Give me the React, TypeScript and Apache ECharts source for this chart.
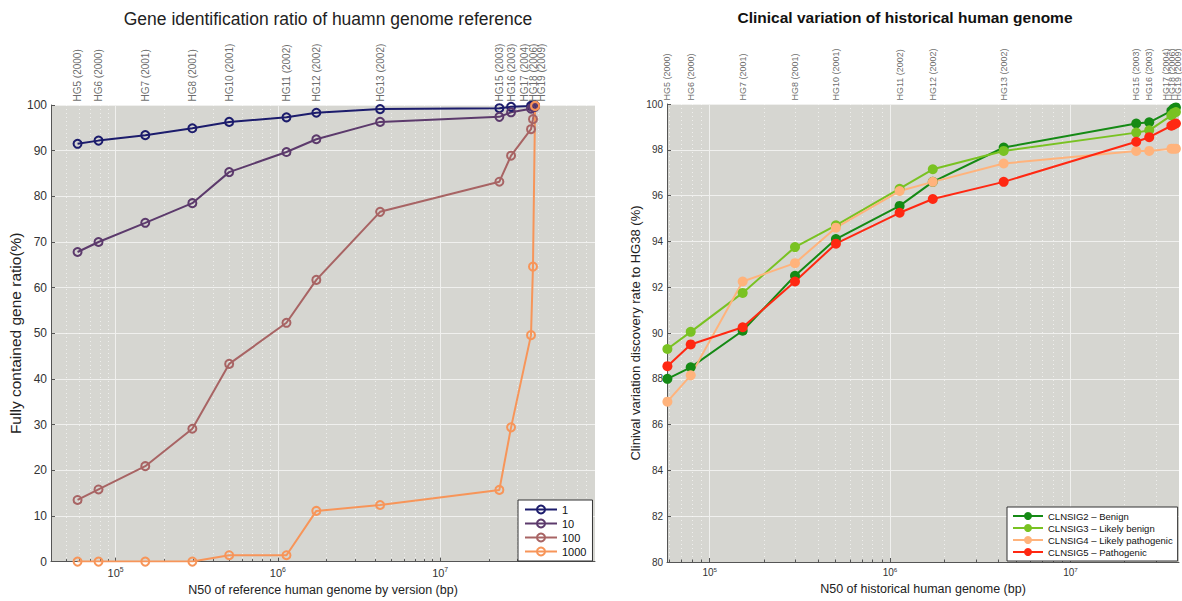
import React, { useEffect, useRef } from 'react';
import * as echarts from 'echarts';

// ---------- data ----------
const versions = [
  'HG5 (2000)', 'HG6 (2000)', 'HG7 (2001)', 'HG8 (2001)', 'HG10 (2001)', 'HG11 (2002)', 'HG12 (2002)',
  'HG13 (2002)', 'HG15 (2003)', 'HG16 (2003)', 'HG17 (2004)', 'HG18 (2006)', 'HG19 (2009)',
];
const n50 = [
  58300, 78500, 152400, 297200, 501200, 1130000, 1726000, 4266000, 23170000, 27350000, 36300000, 37330000, 38460000,
];

const geneNames = ['1', '10', '100', '1000'];
const gene1 = [91.5, 92.2, 93.4, 94.9, 96.3, 97.3, 98.3, 99.1, 99.3, 99.6, 99.8, 99.9, 99.9];
const gene10 = [67.8, 70.0, 74.2, 78.5, 85.3, 89.7, 92.5, 96.3, 97.4, 98.4, 99.2, 99.5, 99.6];
const gene100 = [13.5, 15.8, 20.9, 29.1, 43.3, 52.3, 61.7, 76.6, 83.2, 88.9, 94.7, 96.9, 99.8];
const gene1000 = [0, 0, 0, 0, 1.4, 1.4, 11.1, 12.4, 15.7, 29.4, 49.6, 64.6, 99.8];

const clinNames = ['CLNSIG2 – Benign', 'CLNSIG3 – Likely benign', 'CLNSIG4 – Likely pathogenic', 'CLNSIG5 – Pathogenic'];
const clnsig2 = [88.0, 88.5, 90.1, 92.5, 94.1, 95.55, 96.6, 98.1, 99.15, 99.2, 99.7, 99.8, 99.85];
const clnsig3 = [89.3, 90.05, 91.75, 93.75, 94.7, 96.3, 97.15, 97.95, 98.75, 98.85, 99.5, 99.6, 99.65];
const clnsig4 = [87.0, 88.15, 92.25, 93.05, 94.6, 96.2, 96.6, 97.4, 97.95, 97.95, 98.05, 98.05, 98.05];
const clnsig5 = [88.55, 89.5, 90.25, 92.25, 93.9, 95.25, 95.85, 96.6, 98.35, 98.55, 99.05, 99.1, 99.15];

const decadeTicks = [1e5, 1e6, 1e7];

// ---------- styling ----------
const FONT = '"Liberation Sans", Arial, Helvetica, sans-serif';
const PLOT_BG = '#d6d6d1';
const AXIS_C = '#555555';
const GRID_LINE = '#f0f0ee';
const geneColors = ['#1c1c6c', '#5c3a6c', '#a86464', '#f79559'];
const clinColors = ['#158a15', '#79c222', '#ffb37c', '#ff2812'];

// spread version labels that would collide (in log space)
function spreadLabelValues(values: number[], gap: number, minVal: number, maxVal: number): number[] {
  const pos = values.map((v) => Math.log10(v));
  for (let k = 0; k < 200; k++) {
    for (let i = 1; i < pos.length; i++) {
      const d = pos[i] - pos[i - 1];
      if (d < gap - 1e-9) {
        const s = (gap - d) / 2;
        pos[i - 1] -= s;
        pos[i] += s;
      }
    }
  }
  const lmax = Math.log10(maxVal) - 0.004;
  for (let i = pos.length - 1; i >= 0; i--) {
    const lim = i === pos.length - 1 ? lmax : pos[i + 1] - gap;
    if (pos[i] > lim) pos[i] = lim;
  }
  const lmin = Math.log10(minVal) + 0.002;
  if (pos[0] < lmin) pos[0] = lmin;
  return pos.map((p) => Math.pow(10, p));
}

function bottomAxis(gridIndex: number, min: number, max: number, name: string, nameGap: number, labelSize: number, nameSize: number) {
  return {
    type: 'log',
    logBase: 10,
    gridIndex,
    position: 'bottom',
    min,
    max,
    name,
    nameLocation: 'middle',
    nameGap,
    nameTextStyle: { fontSize: nameSize, color: '#222', fontFamily: FONT },
    axisLine: { show: true, onZero: false, lineStyle: { color: AXIS_C, width: 1 } },
    axisTick: { show: true, inside: true, length: 4, customValues: decadeTicks, lineStyle: { color: AXIS_C } },
    minorTick: { show: true, splitNumber: 9, length: 2.5, lineStyle: { color: AXIS_C } },
    axisLabel: {
      customValues: decadeTicks,
      margin: 4,
      hideOverlap: false,
      formatter: (v: number) => `{b|10}{s|${Math.round(Math.log10(v))}}`,
      rich: {
        b: { fontSize: labelSize, color: '#333', fontFamily: FONT, lineHeight: labelSize + 3 },
        s: { fontSize: labelSize * 0.62, color: '#333', fontFamily: FONT, verticalAlign: 'top', lineHeight: labelSize * 0.7 },
      },
    },
    splitLine: { show: true, lineStyle: { color: GRID_LINE, width: 1 } },
    minorSplitLine: { show: true, lineStyle: { color: 'rgba(255,255,255,0.6)', width: 1, type: [1, 3] } },
  };
}

function yAxis(gridIndex: number, min: number, max: number, interval: number, name: string, nameGap: number, labelSize: number, nameSize: number) {
  return {
    type: 'value',
    gridIndex,
    min,
    max,
    interval,
    name,
    nameLocation: 'middle',
    nameGap,
    nameTextStyle: { fontSize: nameSize, color: '#222', fontFamily: FONT },
    axisLine: { show: true, onZero: false, lineStyle: { color: AXIS_C, width: 1 } },
    axisTick: { show: true, inside: true, length: 4, lineStyle: { color: AXIS_C } },
    axisLabel: { fontSize: labelSize, color: '#333', fontFamily: FONT, margin: 4 },
    splitLine: { show: true, lineStyle: { color: GRID_LINE, width: 1 } },
  };
}

// version names along the top edge of each plot
function versionLabelSeries(axisIndex: number, yTop: number, labelPos: number[], fontSize: number) {
  return {
    type: 'scatter',
    xAxisIndex: axisIndex,
    yAxisIndex: axisIndex,
    silent: true,
    clip: false,
    symbol: 'circle',
    symbolSize: 1,
    itemStyle: { color: 'rgba(0,0,0,0)' },
    data: labelPos.map((x, i) => ({ name: versions[i], value: [x, yTop] })),
    label: {
      show: true,
      position: 'top',
      distance: 3,
      rotate: 90,
      align: 'left',
      verticalAlign: 'middle',
      formatter: '{b}',
      fontSize,
      color: '#444',
      fontFamily: FONT,
    },
    labelLayout: { hideOverlap: false },
    z: 10,
  };
}

const LEFT_MIN = 4e4;
const LEFT_MAX = 9e7;
const RIGHT_MIN = 58000;
const RIGHT_MAX = 4.0e7;

export default function App() {
  const ref = useRef<HTMLDivElement>(null);

  useEffect(() => {
    if (!ref.current) return;
    const chart = echarts.init(ref.current, undefined, { renderer: 'svg' });

    const leftLabelPos = spreadLabelValues(n50, 0.053, LEFT_MIN, LEFT_MAX);
    const rightLabelPos = spreadLabelValues(n50, 0.034, RIGHT_MIN, RIGHT_MAX);

    const geneData = [gene1, gene10, gene100, gene1000];
    const clinData = [clnsig2, clnsig3, clnsig4, clnsig5];

    const geneSeries = geneNames.map((nm, k) => ({
      name: nm,
      type: 'line',
      xAxisIndex: 0,
      yAxisIndex: 0,
      data: n50.map((x, i) => [x, geneData[k][i]]),
      symbol: 'circle',
      symbolSize: 8,
      lineStyle: { color: geneColors[k], width: 2 },
      itemStyle: { color: 'rgba(0,0,0,0)', borderColor: geneColors[k], borderWidth: 2 },
      emphasis: { disabled: true },
    }));

    const clinSeries = clinNames.map((nm, k) => ({
      name: nm,
      type: 'line',
      xAxisIndex: 1,
      yAxisIndex: 1,
      data: n50.map((x, i) => [x, clinData[k][i]]),
      symbol: 'circle',
      symbolSize: 10,
      lineStyle: { color: clinColors[k], width: 2 },
      itemStyle: { color: clinColors[k] },
      emphasis: { disabled: true },
    }));

    chart.setOption({
      animation: false,
      backgroundColor: '#ffffff',
      textStyle: { fontFamily: FONT },
      title: [
        {
          text: 'Gene identification ratio of huamn genome reference',
          left: 323,
          top: 5,
          textAlign: 'center',
          textStyle: { fontSize: 17.5, fontWeight: 'normal', color: '#222', fontFamily: FONT },
        },
        {
          text: 'Clinical variation of historical human genome',
          left: 900,
          top: 4,
          textAlign: 'center',
          textStyle: { fontSize: 15.5, fontWeight: 'bold', color: '#111', fontFamily: FONT },
        },
      ],
      grid: [
        { left: 51, top: 105, width: 544, height: 457, show: true, backgroundColor: PLOT_BG, borderWidth: 0, containLabel: false },
        { left: 667, top: 104, width: 512, height: 458, show: true, backgroundColor: PLOT_BG, borderWidth: 0, containLabel: false },
      ],
      xAxis: [
        bottomAxis(0, LEFT_MIN, LEFT_MAX, 'N50 of reference human genome by version (bp)', 13, 11, 12.5),
        bottomAxis(1, RIGHT_MIN, RIGHT_MAX, 'N50 of historical human genome (bp)', 17, 10, 12.5),
      ],
      yAxis: [
        yAxis(0, 0, 100, 10, 'Fully contained gene ratio(%)', 23, 12, 15.5),
        yAxis(1, 80, 100, 2, 'Clinival variation discovery rate to HG38 (%)', 23, 10, 13),
      ],
      legend: [
        {
          data: geneNames,
          orient: 'vertical',
          left: 518,
          top: 500,
          backgroundColor: '#ffffff',
          borderColor: '#333',
          borderWidth: 1,
          borderRadius: 0,
          padding: [4, 6, 4, 6],
          itemGap: 3,
          itemWidth: 32,
          itemHeight: 10,
          selectedMode: false,
          textStyle: { fontSize: 11, color: '#111', fontFamily: FONT },
        },
        {
          data: clinNames,
          orient: 'vertical',
          left: 1007,
          top: 507,
          backgroundColor: '#ffffff',
          borderColor: '#333',
          borderWidth: 1,
          borderRadius: 0,
          padding: [4, 5, 4, 5],
          itemGap: 2,
          itemWidth: 30,
          itemHeight: 10,
          selectedMode: false,
          textStyle: { fontSize: 9.5, color: '#111', fontFamily: FONT },
        },
      ],
      series: [
        ...geneSeries,
        ...clinSeries,
        versionLabelSeries(0, 100, leftLabelPos, 10),
        versionLabelSeries(1, 100, rightLabelPos, 9),
      ],
    });

    return () => {
      chart.dispose();
    };
  }, []);

  return <div ref={ref} style={{ position: 'fixed', left: 0, top: 0, width: 1182, height: 601 }} />;
}
